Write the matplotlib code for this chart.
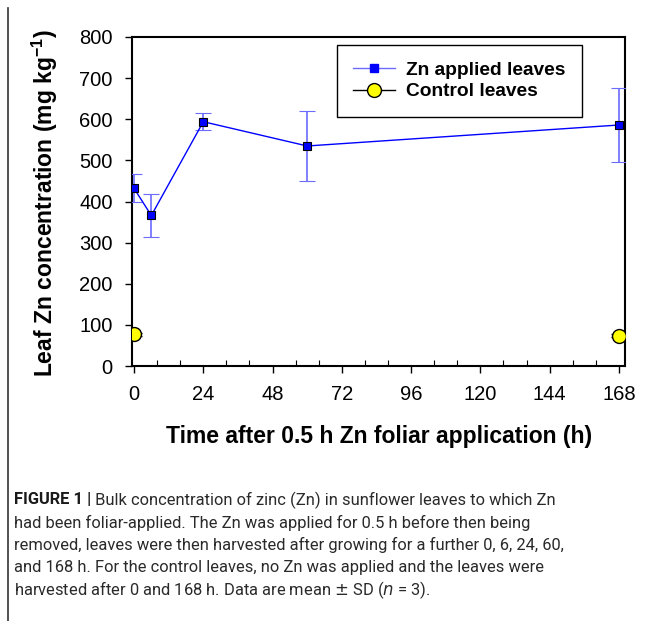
import matplotlib
matplotlib.use('Agg')
from matplotlib import pyplot as plt
from matplotlib.lines import Line2D
from matplotlib.ticker import MultipleLocator
import numpy as np

plt.rcParams['font.family'] = ['Liberation Sans', 'DejaVu Sans']

# Zn applied leaves
zn_time = [0, 6, 24, 60, 168]
zn_mean = [432, 366, 594, 535, 586]
zn_sd = [34, 52, 20, 86, 90]

# Control leaves
ctrl_time = [0, 168]
ctrl_mean = [77, 74]
ctrl_sd = [3, 3]

x_ticks = [0, 24, 48, 72, 96, 120, 144, 168]
y_ticks = [0, 100, 200, 300, 400, 500, 600, 700, 800]

caption_bold = 'FIGURE 1 |'
caption_lines = [
    ' Bulk concentration of zinc (Zn) in sunflower leaves to which Zn',
    'had been foliar-applied. The Zn was applied for 0.5 h before then being',
    'removed, leaves were then harvested after growing for a further 0, 6, 24, 60,',
    'and 168 h. For the control leaves, no Zn was applied and the leaves were',
    'harvested after 0 and 168 h. Data are mean $\\pm$ SD ($n$ = 3).',
]

W, H = 657, 621
fig = plt.figure(figsize=(W / 100, H / 100), dpi=100)
ax = fig.add_axes([132 / W, 1 - 366 / H, (625 - 132) / W, (366 - 37) / H])

ax.errorbar(zn_time, zn_mean, yerr=zn_sd, color='#0000ff', lw=1,
            ecolor='#6b6bff', elinewidth=1.2, capsize=6, capthick=1.2,
            marker='s', ms=6, mfc='#0000ff', mec='black', mew=0.8, zorder=3)
ax.errorbar(ctrl_time, ctrl_mean, yerr=ctrl_sd, ls='none', ecolor='black',
            elinewidth=1, capsize=6, capthick=1,
            marker='o', ms=10, mfc='#ffff00', mec='black', mew=1, zorder=4)

ax.set_xlim(-0.7, 170.1)
ax.set_ylim(0, 800)
ax.set_xticks(x_ticks)
ax.set_yticks(y_ticks)
ax.xaxis.set_minor_locator(MultipleLocator(8))
ax.tick_params(axis='x', which='major', direction='out', length=5, width=1,
               labelsize=14.5, pad=9)
ax.tick_params(axis='x', which='minor', direction='in', length=4, width=0.8)
ax.tick_params(axis='y', which='major', direction='out', length=5, width=1,
               labelsize=14.5, pad=9)
for s in ax.spines.values():
    s.set_linewidth(1.5)

handles = [
    Line2D([], [], color='#6b6bff', lw=1, marker='s', ms=6, mfc='#0000ff',
           mec='#0000ff'),
    Line2D([], [], color='black', lw=1, marker='o', ms=10, mfc='#ffff00',
           mec='black'),
]
leg = fig.legend(handles, ['Zn applied leaves', 'Control leaves'],
                 loc='upper left', bbox_to_anchor=(337 / W, 1 - 45 / H),
                 bbox_transform=fig.transFigure, frameon=True, fancybox=False,
                 edgecolor='black', framealpha=1, handlelength=2.2,
                 handletextpad=0.55, labelspacing=0.22, borderpad=0.85,
                 borderaxespad=0, prop={'weight': 'bold', 'size': 13.8})
leg.get_frame().set_linewidth(1)

fig.text(45 / W, 1 - 203 / H, 'Leaf Zn concentration (mg kg$^{\\mathregular{-1}}$)',
         rotation=90, ha='center', va='center', fontsize=16.5, fontweight='bold')
fig.text(379 / W, 1 - 437 / H, 'Time after 0.5 h Zn foliar application (h)',
         ha='center', va='center', fontsize=16.5, fontweight='bold')

# left border of the figure panel
fig.add_artist(Line2D([8 / W, 8 / W], [0, 1 - 8 / H], color='#333333', lw=1.2,
                      transform=fig.transFigure))

# caption
cap_font = ['Roboto', 'DejaVu Sans']
cap_size = 11.9
y0 = 1 - 500 / H
dy = 22.5 / H
bold = fig.text(14 / W, y0, caption_bold, ha='left', va='center',
                fontsize=cap_size, fontweight='bold', family=cap_font,
                color='#1a1a1a')
fig.canvas.draw()
bb = bold.get_window_extent()
fig.text(bb.x1 / W, y0, caption_lines[0], ha='left', va='center',
         fontsize=cap_size, family=cap_font, color='#2a2a2a')
for i, line in enumerate(caption_lines[1:], start=1):
    fig.text(14 / W, y0 - i * dy, line, ha='left', va='center',
             fontsize=cap_size, family=cap_font, color='#2a2a2a')

fig.savefig('out.png', dpi=100)
